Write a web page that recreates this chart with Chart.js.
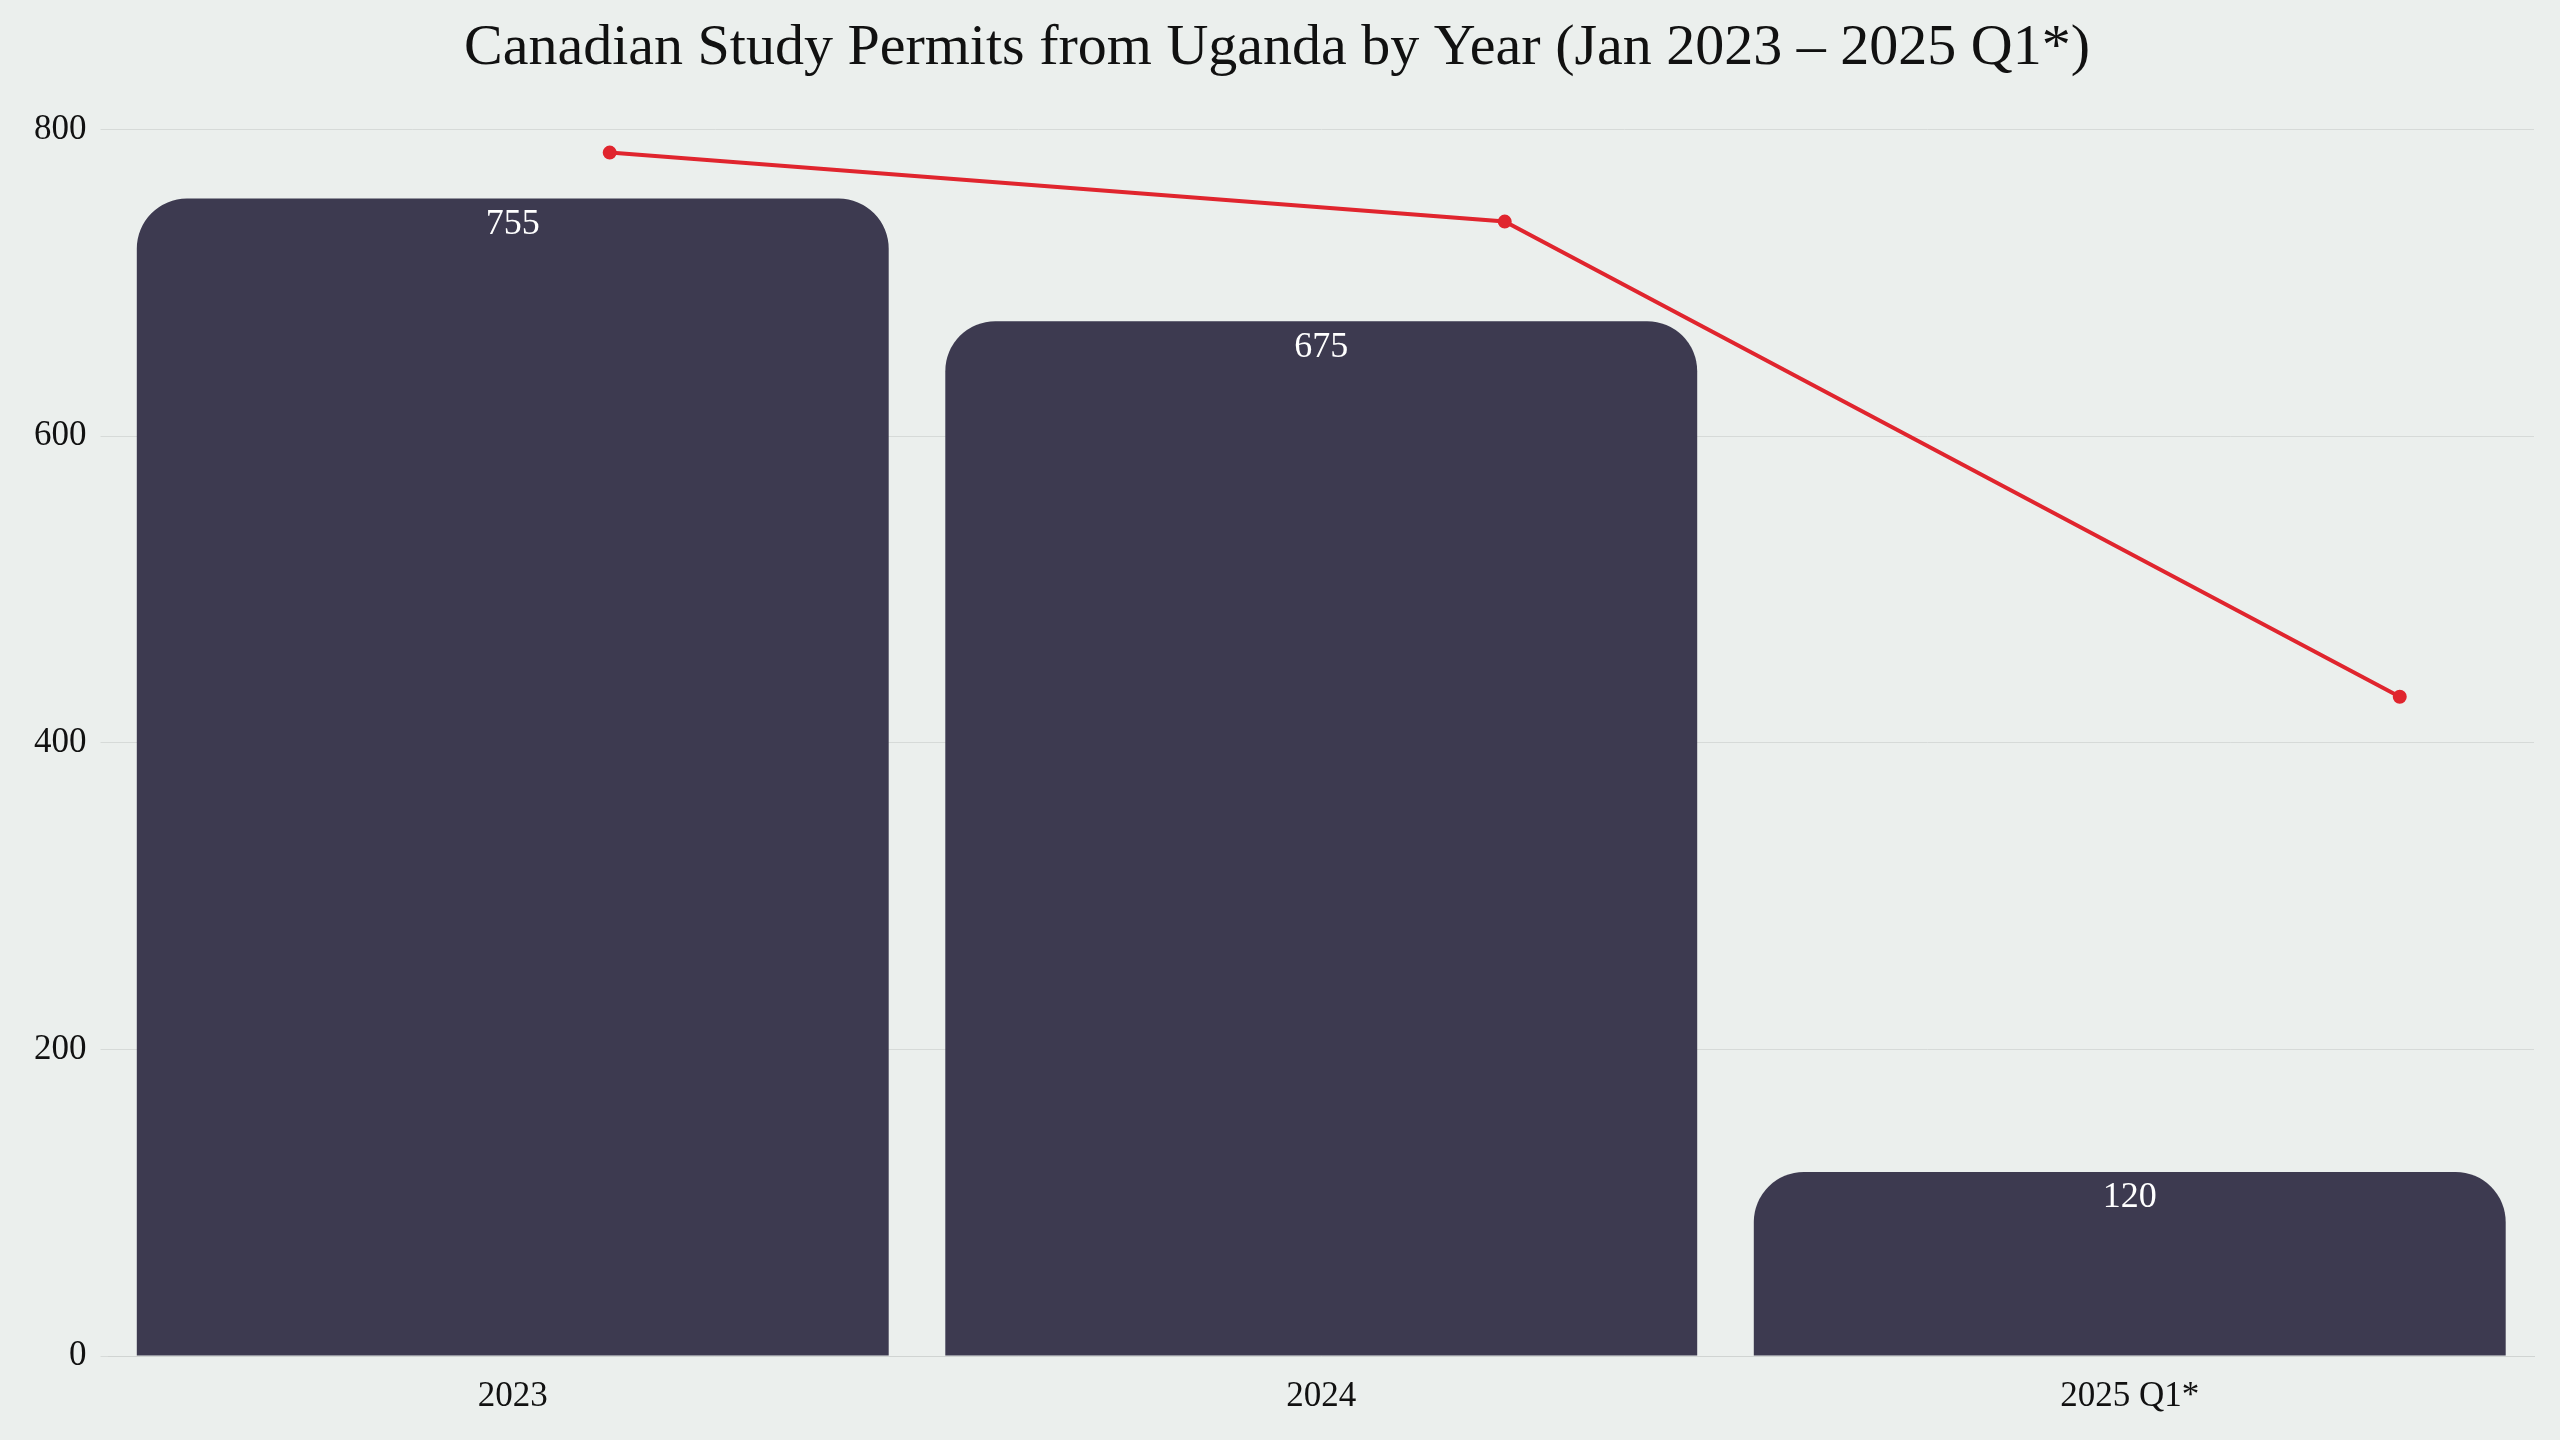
<!DOCTYPE html>
<html><head><meta charset="utf-8">
<script src="https://cdn.jsdelivr.net/npm/chart.js@4"></script>
<style>html,body{margin:0;background:#ebefed}#w{width:2560px;height:1440px}</style>
</head><body><div id="w"><canvas id="c"></canvas></div>
<script>
const categories = ["2023", "2024", "2025 Q1*"];
const permits = [755, 675, 120];
const trend = [785, 740, 430];
const yTicks = [0, 200, 400, 600, 800];
const F = "'Liberation Serif', 'DejaVu Serif', serif";

const labelPlugin = {
  id: 'lbl',
  afterDatasetsDraw(chart) {
    const ctx = chart.ctx;
    const meta = chart.getDatasetMeta(0);
    ctx.save();
    ctx.fillStyle = '#ffffff';
    ctx.font = `36px ${F}`;
    ctx.textAlign = 'center';
    ctx.textBaseline = 'top';
    meta.data.forEach((b, i) => ctx.fillText(String(permits[i]), b.x, b.y + 8));
    ctx.restore();
  }
};

new Chart(document.getElementById('c'), {
  data: {
    labels: categories,
    datasets: [
      { type: 'bar', data: permits, backgroundColor: '#3d3a50', borderRadius: {topLeft: 50, topRight: 50},
        borderSkipped: 'bottom', barPercentage: 0.93, categoryPercentage: 1, grouped: false, xAxisID: 'x', order: 2 },
      { type: 'line', data: trend.map((v, i) => ({x: i, y: v})), borderColor: '#e0252e', backgroundColor: '#e0252e',
        borderWidth: 4, pointRadius: 5, xAxisID: 'x2', order: 1 }
    ]
  },
  options: {
    responsive: true, maintainAspectRatio: false, animation: false,
    layout: { padding: { left: 20, right: 26, top: 0, bottom: 10 } },
    plugins: {
      legend: { display: false }, tooltip: { enabled: false },
      title: { display: true, text: 'Canadian Study Permits from Uganda by Year (Jan 2023 – 2025 Q1*)',
        color: '#111', font: { family: F, size: 58, weight: 'normal' }, padding: { top: 14, bottom: 46 } }
    },
    scales: {
      x: { grid: { display: false }, border: { color: '#d0d4d2' },
        ticks: { color: '#111', font: { family: F, size: 35 }, padding: 12 } },
      x2: { type: 'linear', display: false, min: -0.56, max: 2.15 },
      y: { min: 0, max: 800, afterBuildTicks: a => { a.ticks = yTicks.map(v => ({value: v})); },
        grid: { color: '#d6dad8', lineWidth: 1 }, border: { display: false },
        ticks: { color: '#111', font: { family: F, size: 35 }, padding: 14 } }
    }
  },
  plugins: [labelPlugin]
});
</script></body></html>
